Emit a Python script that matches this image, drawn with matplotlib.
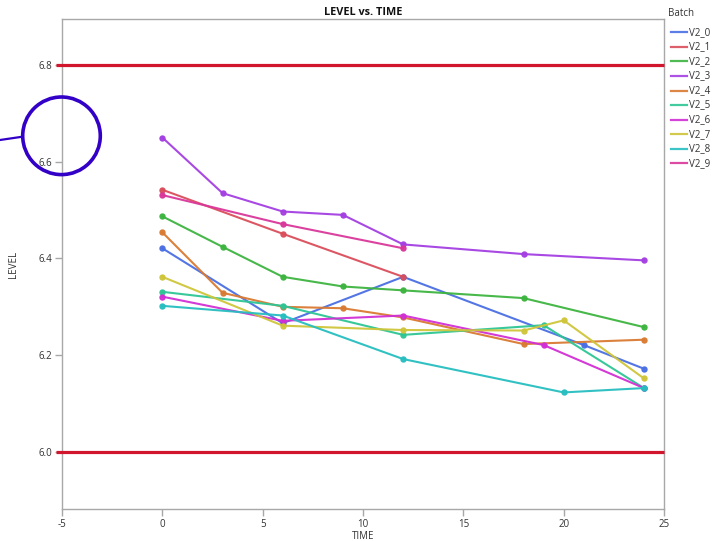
import matplotlib
matplotlib.use("Agg")
import matplotlib.pyplot as plt
from matplotlib.patches import Ellipse
from matplotlib.lines import Line2D

plt.rcParams['font.family'] = ['Open Sans', 'DejaVu Sans']

batches = ["V2_0", "V2_1", "V2_2", "V2_3", "V2_4", "V2_5", "V2_6", "V2_7", "V2_8", "V2_9"]

time_v2_0 = [0, 6, 12, 21, 24]
level_v2_0 = [6.421, 6.266, 6.362, 6.221, 6.172]
time_v2_1 = [0, 6, 12]
level_v2_1 = [6.542, 6.451, 6.362]
time_v2_2 = [0, 3, 6, 9, 12, 18, 24]
level_v2_2 = [6.487, 6.424, 6.362, 6.342, 6.334, 6.318, 6.258]
time_v2_3 = [0, 3, 6, 9, 12, 18, 24]
level_v2_3 = [6.650, 6.535, 6.497, 6.490, 6.429, 6.409, 6.396]
time_v2_4 = [0, 3, 6, 9, 12, 18, 24]
level_v2_4 = [6.454, 6.329, 6.300, 6.297, 6.278, 6.223, 6.232]
time_v2_5 = [0, 6, 12, 19, 24]
level_v2_5 = [6.331, 6.302, 6.242, 6.262, 6.132]
time_v2_6 = [0, 6, 12, 19, 24]
level_v2_6 = [6.321, 6.271, 6.282, 6.221, 6.132]
time_v2_7 = [0, 6, 12, 18, 20, 24]
level_v2_7 = [6.362, 6.261, 6.252, 6.251, 6.272, 6.152]
time_v2_8 = [0, 6, 12, 20, 24]
level_v2_8 = [6.302, 6.282, 6.192, 6.123, 6.132]
time_v2_9 = [0, 6, 12]
level_v2_9 = [6.531, 6.471, 6.421]

times = [time_v2_0, time_v2_1, time_v2_2, time_v2_3, time_v2_4,
         time_v2_5, time_v2_6, time_v2_7, time_v2_8, time_v2_9]
levels = [level_v2_0, level_v2_1, level_v2_2, level_v2_3, level_v2_4,
          level_v2_5, level_v2_6, level_v2_7, level_v2_8, level_v2_9]

colors = ["#4A6FE3", "#DA4E5C", "#3DB43F", "#A43FE2", "#D97A32",
          "#2EC595", "#D12FD4", "#CFC53A", "#27BEC0", "#D9379A"]

spec_limits = [6.0, 6.8]
x_ticks = [-5, 0, 5, 10, 15, 20, 25]
y_ticks = [6.0, 6.2, 6.4, 6.6, 6.8]

W, H = 720, 541
fig = plt.figure(figsize=(W / 100, H / 100), dpi=100)
ax = fig.add_axes([62 / W, 1 - 509 / H, (664 - 62) / W, (509 - 19) / H])

for t, v, c in zip(times, levels, colors):
    ax.plot(t, v, color=c, lw=1.5, marker='o', ms=3.6, mec=c, mfc=c, alpha=0.95, zorder=3)

for lim in spec_limits:
    ax.plot([-5.3, 25], [lim, lim], color="#D0152D", lw=2.3, zorder=4, clip_on=False,
            solid_capstyle='butt')

ax.set_xlim(-5, 25)
ax.set_ylim(5.882, 6.895)
ax.set_xticks(x_ticks)
ax.set_xticklabels([str(x) for x in x_ticks])
ax.set_yticks(y_ticks)
ax.set_yticklabels([f"{y:.1f}" for y in y_ticks])

for s in ax.spines.values():
    s.set_color("#A8A8A8")
    s.set_linewidth(1.0)
ax.tick_params(colors="#A8A8A8", labelcolor="#333333", labelsize=7, length=5, width=1.0, pad=2)

ax.set_title("LEVEL vs. TIME", fontsize=7.8, fontweight='bold', pad=3, color="#111111")
ax.set_xlabel("TIME", fontsize=7, color="#333333", labelpad=1)
ax.set_ylabel("LEVEL", fontsize=7, color="#333333", labelpad=14)

# Legend
fig.text(668 / W, 1 - 13 / H, "Batch", fontsize=7, color="#333333", va='center', ha='left')
for i, (name, c) in enumerate(zip(batches, colors)):
    y = 1 - (32.3 + i * 14.55) / H
    fig.add_artist(Line2D([671 / W, 687 / W], [y, y], color=c, lw=1.6, alpha=0.9))
    fig.text(689 / W, y, name, fontsize=7, color="#333333", va='center', ha='left')

# Highlight circle with leader line
r = 38.8
fig.add_artist(Ellipse((61.5 / W, 1 - 135.8 / H), 2 * r / W, 2 * r / H,
                       transform=fig.transFigure, fill=False, ec="#3300C8", lw=2.6, zorder=10))
fig.add_artist(Line2D([0, 22.5 / W], [1 - 140 / H, 1 - 136.7 / H], color="#3300C8", lw=1.6, zorder=10))

fig.savefig("out.png", dpi=100)
